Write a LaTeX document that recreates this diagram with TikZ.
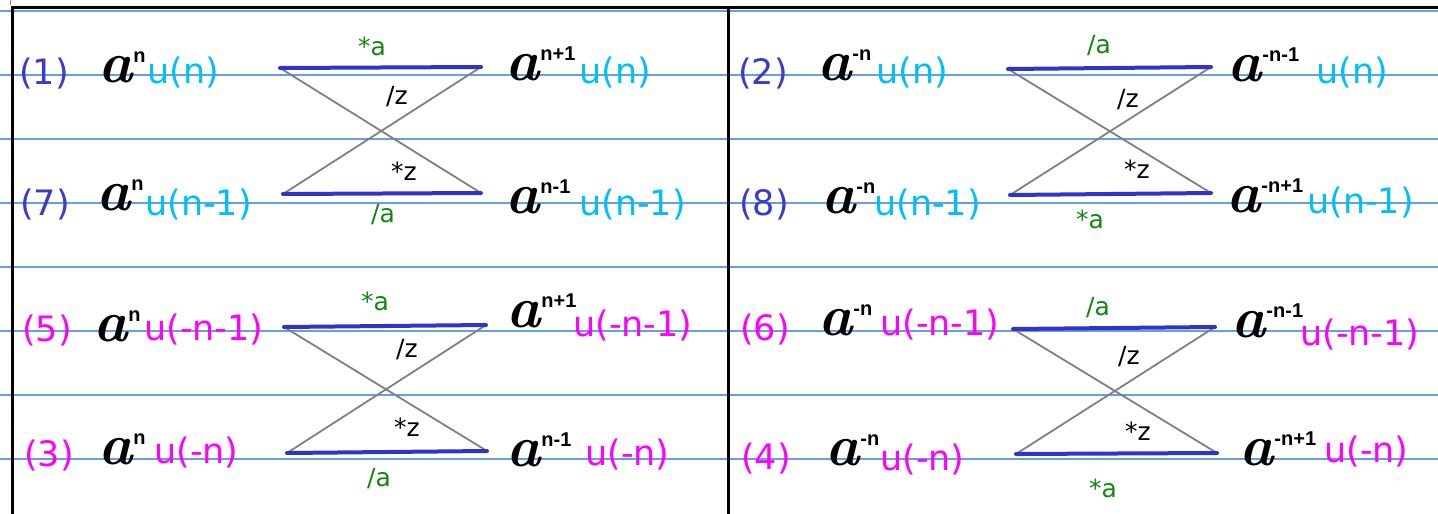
\documentclass[tikz,border=0pt]{standalone}
\usepackage{fontspec}
\newfontfamily\dv{DejaVu Sans}
\newfontfamily\supfnt{Liberation Sans}
\definecolor{numblue}{RGB}{58,58,204}
\definecolor{ucyan}{RGB}{0,191,255}
\definecolor{mag}{RGB}{255,0,255}
\definecolor{labgreen}{RGB}{16,136,16}
\definecolor{barblue}{RGB}{51,51,204}
\definecolor{ruleblue}{RGB}{100,160,230}
\definecolor{crossgray}{RGB}{128,128,128}
\definecolor{marginpink}{RGB}{255,80,160}
\newcommand\aexp[1]{{\fontsize{58}{58}\selectfont\bfseries\itshape a}\kern1pt\raisebox{20pt}{\supfnt\bfseries\fontsize{20}{20}\selectfont #1}}
\tikzset{
  rule/.style={draw=ruleblue, line width=1.3pt},
  frame/.style={draw=black, line width=3pt},
  bar/.style={draw=barblue, line width=4pt, line cap=round},
  crossline/.style={draw=crossgray, line width=1.8pt},
  numlbl/.style={anchor=base west, inner sep=0pt, font=\dv\fontsize{35}{35}\selectfont},
  uterm/.style={anchor=base west, inner sep=0pt, font=\dv\fontsize{35}{35}\selectfont},
  oplbl/.style={anchor=base west, inner sep=0pt, font=\dv\fontsize{25}{25}\selectfont},
  aterm/.style={anchor=base west, inner sep=0pt, text=black},
}
\begin{document}
\begin{tikzpicture}[x=1pt,y=-1pt]
\useasboundingbox (0,0) rectangle (1438,514);
\fill[white] (0,0) rectangle (1438,514);
% ruled lines
\foreach \yy in {11,75,139,203,267,331,395,459}
  \draw[rule] (0,\yy) -- (1438,\yy);
% frame
\draw[marginpink, line width=1.5pt] (10.5,0) -- (10.5,5);
\draw[frame] (12,514) -- (12,7) -- (1438,7);
\draw[frame] (728,7) -- (728,514);

% ---------- panel 1 ----------
\coordinate (p1tl) at (280,68);
\coordinate (p1tr) at (481,67);
\coordinate (p1bl) at (283,194);
\coordinate (p1br) at (481,193);
\draw[crossline] (p1tl) -- (p1br);
\draw[crossline] (p1bl) -- (p1tr);
\draw[bar] (p1tl) -- (p1tr);
\draw[bar] (p1bl) -- (p1br);
\node[numlbl, text=numblue] (n1) at (19,84) {(1)};
\node[aterm] (a1) at (98,82) {\aexp{n}};
\node[uterm, text=ucyan] (u1) at (147,83) {u(n)};
\node[aterm] (a1r) at (505,80) {\aexp{n+1}};
\node[uterm, text=ucyan] (u1r) at (579,83) {u(n)};
\node[numlbl, text=numblue] (n7) at (20,215) {(7)};
\node[aterm] (a7) at (96,210) {\aexp{n}};
\node[uterm, text=ucyan] (u7) at (145,215) {u(n-1)};
\node[aterm] (a7r) at (505,213) {\aexp{n-1}};
\node[uterm, text=ucyan] (u7r) at (579,215) {u(n-1)};
\node[oplbl, text=labgreen] (o1a) at (358,55) {*a};
\node[oplbl, text=black] (o1b) at (386,104) {/z};
\node[oplbl, text=black] (o1c) at (391,180) {*z};
\node[oplbl, text=labgreen] (o1d) at (371,222) {/a};

% ---------- panel 2 ----------
\coordinate (p2tl) at (1008,69);
\coordinate (p2tr) at (1211,67);
\coordinate (p2bl) at (1010,195);
\coordinate (p2br) at (1211,193);
\draw[crossline] (p2tl) -- (p2br);
\draw[crossline] (p2bl) -- (p2tr);
\draw[bar] (p2tl) -- (p2tr);
\draw[bar] (p2bl) -- (p2br);
\node[numlbl, text=numblue] (n2) at (738,84) {(2)};
\node[aterm] (a2) at (817,80) {\aexp{-n}};
\node[uterm, text=ucyan] (u2) at (876,83) {u(n)};
\node[aterm] (a2r) at (1227,81) {\aexp{-n-1}};
\node[uterm, text=ucyan] (u2r) at (1316,83) {u(n)};
\node[numlbl, text=numblue] (n8) at (739,215) {(8)};
\node[aterm] (a8) at (821,213) {\aexp{-n}};
\node[uterm, text=ucyan] (u8) at (874,215) {u(n-1)};
\node[aterm] (a8r) at (1226,212) {\aexp{-n+1}};
\node[uterm, text=ucyan] (u8r) at (1307,213) {u(n-1)};
\node[oplbl, text=labgreen] (o2a) at (1087,53) {/a};
\node[oplbl, text=black] (o2b) at (1117,107) {/z};
\node[oplbl, text=black] (o2c) at (1124,178) {*z};
\node[oplbl, text=labgreen] (o2d) at (1076,228) {*a};

% ---------- panel 3 ----------
\coordinate (p3tl) at (284,327);
\coordinate (p3tr) at (486,325);
\coordinate (p3bl) at (287,453);
\coordinate (p3br) at (487,451);
\draw[crossline] (p3tl) -- (p3br);
\draw[crossline] (p3bl) -- (p3tr);
\draw[bar] (p3tl) -- (p3tr);
\draw[bar] (p3bl) -- (p3br);
\node[numlbl, text=mag] (n5) at (22,341) {(5)};
\node[aterm] (a5) at (93,341) {\aexp{n}};
\node[uterm, text=mag] (u5) at (144,340) {u(-n-1)};
\node[aterm] (a5r) at (506,327) {\aexp{n+1}};
\node[uterm, text=mag] (u5r) at (573,336) {u(-n-1)};
\node[numlbl, text=mag] (n3) at (24,466) {(3)};
\node[aterm] (a3) at (98,464) {\aexp{n}};
\node[uterm, text=mag] (u3) at (154,463) {u(-n)};
\node[aterm] (a3r) at (506,466) {\aexp{n-1}};
\node[uterm, text=mag] (u3r) at (585,465) {u(-n)};
\node[oplbl, text=labgreen] (o3a) at (361,310) {*a};
\node[oplbl, text=black] (o3b) at (396,357) {/z};
\node[oplbl, text=black] (o3c) at (394,436) {*z};
\node[oplbl, text=labgreen] (o3d) at (367,486) {/a};

% ---------- panel 4 ----------
\coordinate (p4tl) at (1013,329);
\coordinate (p4tr) at (1215,327);
\coordinate (p4bl) at (1016,454);
\coordinate (p4br) at (1217,453);
\draw[crossline] (p4tl) -- (p4br);
\draw[crossline] (p4bl) -- (p4tr);
\draw[bar] (p4tl) -- (p4tr);
\draw[bar] (p4bl) -- (p4br);
\node[numlbl, text=mag] (n6) at (740,340) {(6)};
\node[aterm] (a6) at (818,335) {\aexp{-n}};
\node[uterm, text=mag] (u6) at (880,335) {u(-n-1)};
\node[aterm] (a6r) at (1231,337) {\aexp{-n-1}};
\node[uterm, text=mag] (u6r) at (1300,345) {u(-n-1)};
\node[numlbl, text=mag] (n4) at (741,469) {(4)};
\node[aterm] (a4) at (825,465) {\aexp{-n}};
\node[uterm, text=mag] (u4) at (880,470) {u(-n)};
\node[aterm] (a4r) at (1239,465) {\aexp{-n+1}};
\node[uterm, text=mag] (u4r) at (1324,462) {u(-n)};
\node[oplbl, text=labgreen] (o4a) at (1086,315) {/a};
\node[oplbl, text=black] (o4b) at (1118,364) {/z};
\node[oplbl, text=black] (o4c) at (1125,440) {*z};
\node[oplbl, text=labgreen] (o4d) at (1089,497) {*a};
\end{tikzpicture}
\end{document}
